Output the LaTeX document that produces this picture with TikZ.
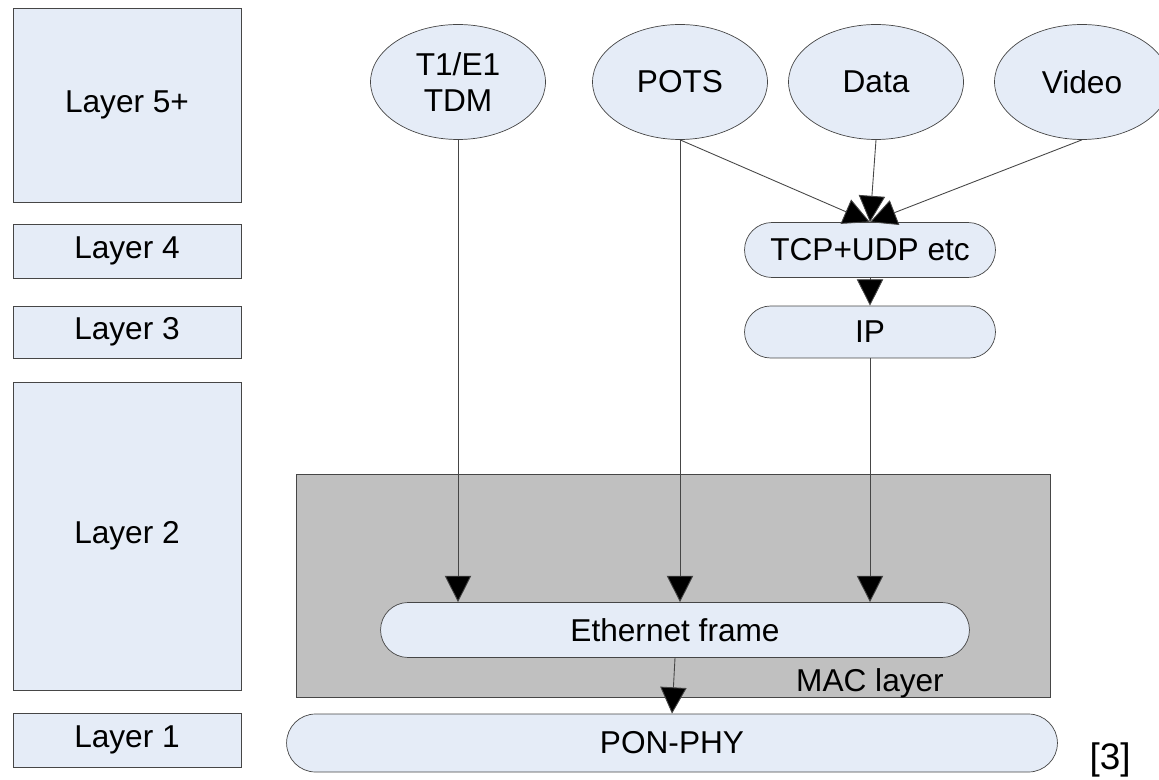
\documentclass[tikz,border=0pt]{standalone}
\usepackage{fontspec}
\setmainfont{Liberation Sans}
\usetikzlibrary{shapes,shapes.misc,arrows.meta}
\definecolor{paleblue}{RGB}{229,236,247}
\definecolor{macgray}{RGB}{192,192,192}
\definecolor{edgegray}{RGB}{70,70,70}
\begin{document}
\begin{tikzpicture}[x=0.02cm, y=-0.02cm,
      every node/.append style={font=\fontsize{18}{21}\selectfont, inner sep=0pt},
      flow/.style={-{Triangle[length=15pt,width=15pt,fill=black]}, draw=edgegray, line width=0.5pt}]
    \tikzstyle{layerbox} = [draw=edgegray,fill=paleblue,minimum width=4.56cm]
    \tikzstyle{service} = [draw=edgegray,fill=paleblue,ellipse,minimum width=3.5cm,minimum height=2.3cm,align=center]
    \tikzstyle{pill} = [draw=edgegray,fill=paleblue,rounded rectangle]
    \useasboundingbox (0,0) rectangle (1159,780);
    % layer column
    \node (L5) [layerbox,minimum height=3.88cm] at (127,105) {Layer 5+};
    \node (L4) [layerbox,minimum height=1.08cm] at (127,251) {Layer 4};
    \node (L3) [layerbox,minimum height=1.04cm] at (127,332) {Layer 3};
    \node (L2) [layerbox,minimum height=6.16cm] at (127,536) {Layer 2};
    \node (L1) [layerbox,minimum height=1.08cm] at (127,740) {Layer 1};
    % MAC layer
    \node (mac) [draw=edgegray,fill=macgray,minimum width=15.08cm,minimum height=4.46cm] at (673,585.5) {};
    \node (maclabel) at (870,683) {MAC layer};
    % services
    \node (tdm) [service] at (458,82) {T1/E1\\TDM};
    \node (pots) [service] at (680,82) {POTS};
    \node (data) [service] at (876,82) {Data};
    \node (video) [service] at (1082,82) {Video};
    % protocol stack
    \node (tcp) [pill,minimum width=5.02cm,minimum height=1.1cm] at (870,250) {TCP+UDP etc};
    \node (ip) [pill,minimum width=5.02cm,minimum height=1.04cm] at (870,332) {IP};
    \node (eth) [pill,minimum width=11.78cm,minimum height=1.1cm] at (675,630) {Ethernet frame};
    \node (pon) [pill,minimum width=15.42cm,minimum height=1.16cm] at (672,743) {PON-PHY};
    \node (ref) [font=\fontsize{21}{24}\selectfont] at (1110,760) {[3]};
    % connectors
    \draw[flow] (pots.south) -- (tcp.north);
    \draw[flow] (data.south) -- (tcp.north);
    \draw[flow] (video.south) -- (tcp.north);
    \draw[flow] (tcp.south) -- (ip.north);
    \draw[flow] (tdm.south) -- (tdm.south |- eth.north);
    \draw[flow] (pots.south) -- (pots.south |- eth.north);
    \draw[flow] (ip.south) -- (ip.south |- eth.north);
    \draw[flow] (eth.south) -- (pon.north);
\end{tikzpicture}
\end{document}
